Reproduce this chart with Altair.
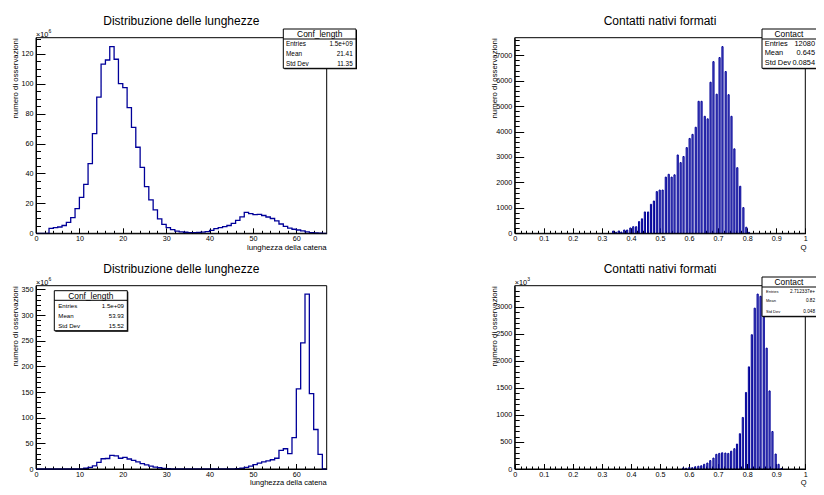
import altair as alt
import pandas as pd

W, H = 808, 479
FONT = "Liberation Sans"
NAVY = "#000099"

# ---------------- data ----------------
# chain length histograms (bin lower edges 0..66, width 1), units x10^6
len_edges = list(range(0, 67))
len_counts_top = [0, 0, 0, 3.3, 3.8, 4.2, 5.2, 7.3, 10.5, 16.5,
                  24.0, 32.7, 46.5, 66.6, 91.0, 113.0, 115.8, 124.7, 116.3, 100.0,
                  97.3, 84.0, 70.8, 57.5, 44.1, 31.2, 22.3, 15.6, 9.6, 6.0,
                  3.8, 2.4, 1.5, 1.0, 0.7, 0.5, 0.5, 0.6, 0.8, 1.1,
                  2.0, 3.1, 3.8, 4.5, 5.2, 6.6, 8.6, 11.0, 14.0, 13.2,
                  12.5, 12.7, 11.9, 10.9, 9.9, 8.3, 6.2, 4.6, 3.4, 2.7,
                  2.2, 1.6, 0.9, 0.4, 0.2, 0.05, 0]
len_counts_bottom = [0, 0, 0, 0, 0, 0, 0, 0, 0, 0,
                     0.3, 1.5, 3.0, 6.0, 13.0, 20.0, 20.5, 26.5, 25.5, 21.0,
                     22.5, 19.5, 17.0, 14.0, 10.5, 8.0, 5.5, 3.6, 2.4, 1.3,
                     0.7, 0.4, 0.3, 0.2, 0.2, 0.1, 0.1, 0.1, 0.1, 0.1,
                     0.1, 0.1, 0.1, 0.2, 0.2, 0.3, 0.7, 1.5, 3.0, 5.5,
                     8.5, 11.5, 14.0, 16.0, 18.0, 21.0, 36.5, 39.5, 30.0, 61.0,
                     156.0, 246.0, 341.0, 147.0, 77.0, 28.5, 0]

# native contacts Q histograms
q_top = [0.339, 0.349, 0.358, 0.367, 0.377, 0.387, 0.398, 0.408, 0.418, 0.428,
         0.438, 0.448, 0.459, 0.469, 0.479, 0.489, 0.499, 0.509, 0.520, 0.530,
         0.540, 0.550, 0.561, 0.571, 0.581, 0.592, 0.602, 0.612, 0.623, 0.633,
         0.643, 0.654, 0.664, 0.674, 0.684, 0.695, 0.705, 0.715, 0.726, 0.736,
         0.746, 0.756, 0.766, 0.776, 0.787, 0.797, 0.806]
n_top = [90, 40, 90, 50, 130, 130, 210, 260, 260, 460,
         570, 840, 840, 1140, 1270, 1640, 1700, 1700, 2210, 2320,
         2210, 2300, 3080, 2780, 3020, 3370, 3730, 3890, 4170, 5190,
         5190, 4600, 4500, 5940, 6750, 5470, 6910, 7340, 6360, 5450,
         4600, 3320, 2580, 1850, 1010, 240, 40]
q_bottom = [0.580, 0.590, 0.601, 0.611, 0.621, 0.632, 0.642, 0.652, 0.663, 0.673,
            0.684, 0.694, 0.704, 0.714, 0.725, 0.735, 0.745, 0.756, 0.765, 0.775,
            0.785, 0.796, 0.806, 0.816, 0.826, 0.836, 0.846, 0.857, 0.867, 0.877,
            0.887, 0.898, 0.908, 0.918]
n_bottom = [20, 15, 30, 25, 40, 52, 60, 87, 110, 156,
            202, 272, 289, 300, 295, 289, 330, 376, 462, 653,
            954, 1416, 1890, 2485, 2977, 3237, 3196, 2861, 2237, 1445,
            694, 277, 87, 10]

# ticks
len_x_major = [0, 10, 20, 30, 40, 50, 60]
len_x_minor = list(range(0, 67, 2))
lt_y_major = [0, 20, 40, 60, 80, 100, 120]
lt_y_minor = list(range(0, 131, 5))
lb_y_major = [0, 50, 100, 150, 200, 250, 300, 350]
lb_y_minor = list(range(0, 351, 10))
q_x_major = [0, 0.1, 0.2, 0.3, 0.4, 0.5, 0.6, 0.7, 0.8, 0.9, 1]
q_x_minor = [round(i * 0.02, 2) for i in range(51)]
qt_y_major = [0, 1000, 2000, 3000, 4000, 5000, 6000, 7000]
qt_y_minor = list(range(0, 7601, 200))
qb_y_major = [0, 500, 1000, 1500, 2000, 2500, 3000]
qb_y_minor = list(range(0, 3301, 100))

ONE = alt.Data(values=[{"k": 0}])


def axis(orient, offset, values, size=0, labels=False, fmt="d", domain=False, pad=2):
    kw = dict(orient=orient, offset=offset, values=values, grid=False, title=None,
              domain=domain, labels=labels)
    if size > 0:
        kw.update(ticks=True, tickSize=size, tickColor="black", tickWidth=1)
    else:
        kw.update(ticks=False, tickSize=0)
    if domain:
        kw.update(domainColor="black", domainWidth=1)
    if labels:
        kw.update(format=fmt, labelFont=FONT, labelFontSize=7.2, labelColor="black",
                  labelPadding=pad, labelFlush=False, labelOverlap=False)
    return alt.Axis(**kw)


def panel(xr, yr, xdom, ydom, xmaj, xmin, ymaj, ymin, xfmt, kind, xs_data, ys_data):
    x0, x1 = xr
    ytop, ybot = yr
    xs = alt.Scale(domain=xdom, range=[x0, x1], nice=False, zero=False)
    ys = alt.Scale(domain=ydom, range=[ybot, ytop], nice=False, zero=False)
    xlab = axis("bottom", -(H - ybot), xmaj, labels=True, fmt=xfmt, domain=True, pad=1)
    ylab = axis("left", -x0, ymaj, labels=True, fmt="d", domain=True, pad=3)
    xmj = axis("top", -ybot, xmaj, size=5.5)
    ymj = axis("right", -(W - x0), ymaj, size=9)
    xmn = axis("top", -ybot, xmin, size=3)
    ymn = axis("right", -(W - x0), ymin, size=4.5)

    layers = []
    if kind == "step":
        df = pd.DataFrame({"edge": list(xs_data) + [xdom[1]],
                           "count": list(ys_data) + [0]})
        layers.append(
            alt.Chart(df).mark_line(interpolate="step-after", color=NAVY, strokeWidth=1.3)
            .encode(x=alt.X("edge:Q", scale=xs, axis=xlab),
                    y=alt.Y("count:Q", scale=ys, axis=ylab))
        )
    else:
        df = pd.DataFrame({"q": list(xs_data), "n": list(ys_data)})
        layers.append(
            alt.Chart(df)
            .transform_calculate(lo="datum.q - 0.002", hi="datum.q + 0.002")
            .mark_rect(fill="#7a7acc", stroke=NAVY, strokeWidth=1)
            .encode(x=alt.X("lo:Q", scale=xs, axis=xlab), x2="hi:Q",
                    y=alt.Y("n:Q", scale=ys, axis=ylab), y2=alt.datum(0))
        )
    fr = pd.DataFrame({"a": [xdom[0]], "b": [xdom[1]], "c": [ydom[0]], "d": [ydom[1]]})
    layers.append(
        alt.Chart(fr).mark_rect(filled=False, color="black", strokeWidth=1)
        .encode(x=alt.X("a:Q", scale=xs, axis=xmj), x2="b:Q",
                y=alt.Y("c:Q", scale=ys, axis=ymj), y2="d:Q")
    )
    layers.append(
        alt.Chart(fr).mark_rect(opacity=0)
        .encode(x=alt.X("a:Q", scale=xs, axis=xmn), x2="b:Q",
                y=alt.Y("c:Q", scale=ys, axis=ymn), y2="d:Q")
    )
    return layers


def text(s, x, y, size, align="left", baseline="middle", angle=None):
    kw = dict(text=s, font=FONT, fontSize=size, align=align, baseline=baseline, color="black")
    if angle is not None:
        kw["angle"] = angle
    return alt.Chart(ONE).mark_text(**kw).encode(x=alt.value(x), y=alt.value(y))


def rect(x0, x1, y0, y1, **kw):
    return alt.Chart(ONE).mark_rect(**kw).encode(
        x=alt.value(x0), x2=alt.value(x1), y=alt.value(y0), y2=alt.value(y1))


def hline(x0, x1, y):
    return alt.Chart(ONE).mark_rule(color="black", strokeWidth=1).encode(
        x=alt.value(x0), x2=alt.value(x1), y=alt.value(y))


def statbox(x0, x1, y0, y1, yline, title, tx, ty, rows, rx, vx, rys, rsize, vsize):
    out = [rect(x0 + 1, x1 + 1, y0 + 1, y1 + 1, fill="black"),
           rect(x0, x1, y0, y1, fill="white", stroke="black", strokeWidth=1),
           hline(x0, x1, yline),
           text(title, tx, ty, 8.4, align="center", baseline="alphabetic")]
    for (lab, val), ry in zip(rows, rys):
        out.append(text(lab, rx, ry, rsize))
        out.append(text(val, vx, ry, vsize, align="right"))
    return out


LX = (28, 318.7)
RX = (506.7, 797.3)
TY = (29.7, 225.3)
BY = (277.7, 461.0)

layers = []
layers += panel(LX, TY, [0, 67], [0, 130.7], len_x_major, len_x_minor,
                lt_y_major, lt_y_minor, "d", "step", len_edges, len_counts_top)
layers += panel(RX, TY, [0, 1], [0, 7690], q_x_major, q_x_minor,
                qt_y_major, qt_y_minor, ".1~f", "bars", q_top, n_top)
layers += panel(LX, BY, [0, 67], [0, 357.3], len_x_major, len_x_minor,
                lb_y_major, lb_y_minor, "d", "step", len_edges, len_counts_bottom)
layers += panel(RX, BY, [0, 1], [0, 3392], q_x_major, q_x_minor,
                qb_y_major, qb_y_minor, ".1~f", "bars", q_bottom, n_bottom)

# titles and axis titles
for yoff, xt_y, xt_s in ((0, 239.6, 7.8), (248, 475.0, 7.5)):
    layers.append(text("Distribuzione delle lunghezze", 173.3, 17 + yoff, 12,
                       align="center", baseline="alphabetic"))
    layers.append(text("Contatti nativi formati", 652, 17 + yoff, 12,
                       align="center", baseline="alphabetic"))
    layers.append(text("numero di osservazioni", 8.3, 30.3 + yoff, 7.8,
                       align="right", angle=270))
    layers.append(text("numero di osservazioni", 486.8, 30.3 + yoff, 7.8,
                       align="right", angle=270))
    layers.append(text("lunghezza della catena", 318.7, xt_y, xt_s, align="right"))
    layers.append(text("Q", 798.5, xt_y, xt_s, align="right"))

# exponent labels
layers.append(text("×10", 28, 28.7, 7.3, baseline="alphabetic"))
layers.append(text("6", 40.6, 25.3, 5, baseline="alphabetic"))
layers.append(text("×10", 28, 276.7, 7.3, baseline="alphabetic"))
layers.append(text("6", 40.6, 273.3, 5, baseline="alphabetic"))
layers.append(text("×10", 506.7, 276.7, 7.3, baseline="alphabetic"))
layers.append(text("3", 519.3, 273.3, 5, baseline="alphabetic"))

# stat boxes
layers += statbox(275.3, 348, 21, 60.3, 31, "Conf_length", 311.7, 29.3,
                  [("Entries", "1.5e+09"), ("Mean", "21.41"), ("Std Dev", "11.35")],
                  278, 344.7, [35.7, 45.7, 55.7], 6.4, 6.4)
layers += statbox(754, 832, 21, 60.3, 31, "Contact", 781, 29.3,
                  [("Entries", "12080"), ("Mean", "0.645"), ("Std Dev", "0.0854")],
                  756.7, 807, [36, 45.3, 55.3], 7.4, 7.4)
layers += statbox(46.3, 119.3, 282.7, 322.7, 292.3, "Conf_length", 82.8, 290.7,
                  [("Entries", "1.5e+09"), ("Mean", "53.93"), ("Std Dev", "15.52")],
                  50.3, 116, [297.7, 308.3, 318.3], 6.1, 6.1)
layers += statbox(754, 832, 269, 308.3, 279, "Contact", 781, 277.3,
                  [("Entries", "2.712337e+"), ("Mean", "0.82"), ("Std Dev", "0.048")],
                  758, 807, [283.7, 293.3, 303.7], 4.0, 4.7)

chart = (
    alt.layer(*layers)
    .resolve_scale(x="independent", y="independent")
    .resolve_axis(x="independent", y="independent")
    .properties(width=W, height=H, padding=0, background="white",
                autosize=alt.AutoSizeParams(type="none"))
    .configure_view(strokeWidth=0)
)

chart.save("out.html", embed_options={"renderer": "svg", "actions": False})
